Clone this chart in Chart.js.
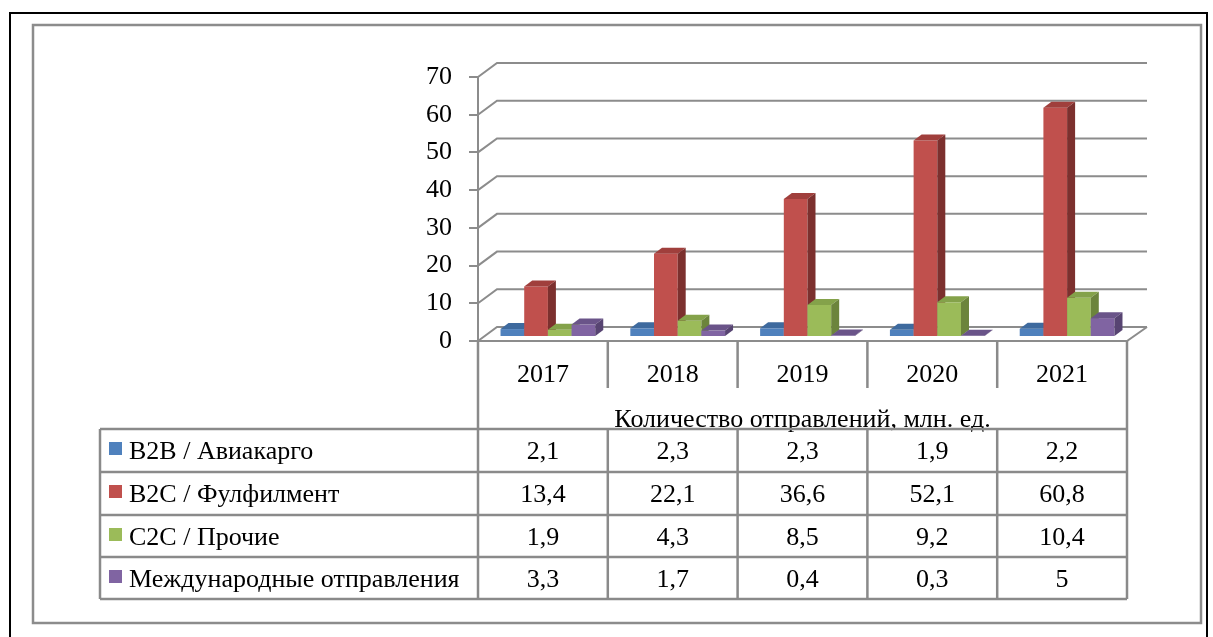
<!DOCTYPE html>
<html>
<head>
<meta charset="utf-8">
<script src="https://cdn.jsdelivr.net/npm/chart.js@4/dist/chart.umd.min.js"></script>
<style>
  html, body { margin: 0; padding: 0; background: #fff; }
  #wrap { width: 1213px; height: 637px; position: relative; }
</style>
</head>
<body>
<div id="wrap"><canvas id="chart"></canvas></div>
<script>
// данные
const categories = ['2017', '2018', '2019', '2020', '2021'];
const seriesNames = ['B2B / Авиакарго', 'B2C / Фулфилмент', 'C2C / Прочие', 'Международные отправления'];
const b2b = [2.1, 2.3, 2.3, 1.9, 2.2];
const b2c = [13.4, 22.1, 36.6, 52.1, 60.8];
const c2c = [1.9, 4.3, 8.5, 9.2, 10.4];
const intl = [3.3, 1.7, 0.4, 0.3, 5];
const tableTitle = 'Количество отправлений, млн. ед.';
const yMax = 70, yStep = 10;

const front = ['#4F81BD', '#C0504D', '#9BBB59', '#8064A2'];
const side  = ['#355A87', '#7C302E', '#6C843C', '#574472'];
const topc  = ['#3E6A9E', '#A03F3C', '#84A24A', '#6A5489'];

const FONT = '26px "Liberation Serif", "Times New Roman", serif';
const gridColor = '#8c8c8c';
const tableColor = '#8a8a8a';

// 3D : стенка, пол, столбики
const threeD = {
  id: 'threeD',
  beforeDatasetsDraw(chart) {
    const ctx = chart.ctx, a = chart.chartArea, y = chart.scales.y;
    ctx.save();
    ctx.strokeStyle = gridColor;
    ctx.lineWidth = 2;
    y.ticks.forEach(t => {
      const py = y.getPixelForValue(t.value);
      ctx.beginPath();
      ctx.moveTo(a.left, py);
      ctx.lineTo(a.left + 19, py - 14);
      ctx.lineTo(a.right + 20, py - 14);
      ctx.stroke();
    });
    ctx.beginPath();
    ctx.moveTo(a.left, a.bottom);
    ctx.lineTo(a.right, a.bottom);
    ctx.lineTo(a.right + 20, a.bottom - 14);
    ctx.stroke();

    const dx = 8, dy = -6;
    for (let j = 0; j < categories.length; j++) {
      chart.data.datasets.forEach((ds, i) => {
        const el = chart.getDatasetMeta(i).data[j];
        const x0 = el.x - el.width / 2 + 5, x1 = x0 + el.width;
        const yt = el.y - 4, yb = el.base - 4;
        ctx.fillStyle = front[i];
        ctx.fillRect(x0, yt, x1 - x0, yb - yt);
        ctx.fillStyle = topc[i];
        ctx.beginPath();
        ctx.moveTo(x0, yt); ctx.lineTo(x1, yt);
        ctx.lineTo(x1 + dx, yt + dy); ctx.lineTo(x0 + dx, yt + dy);
        ctx.closePath(); ctx.fill();
        ctx.fillStyle = side[i];
        ctx.beginPath();
        ctx.moveTo(x1, yt); ctx.lineTo(x1 + dx, yt + dy);
        ctx.lineTo(x1 + dx, yb + dy); ctx.lineTo(x1, yb);
        ctx.closePath(); ctx.fill();
      });
    }
    ctx.restore();
    return false;
  }
};

// таблица данных под графиком
const dataTable = {
  id: 'dataTable',
  afterDraw(chart) {
    const ctx = chart.ctx, a = chart.chartArea, x = chart.scales.x;
    const n = categories.length;
    const edges = [];
    for (let j = 0; j <= n; j++) edges.push(x.getPixelForValue(j - 0.5));
    const rows = [429, 472, 515, 557, 599];
    const legLeft = 100;
    ctx.save();
    ctx.font = FONT;
    ctx.fillStyle = '#000';
    ctx.textAlign = 'center';
    ctx.textBaseline = 'alphabetic';
    categories.forEach((c, j) => ctx.fillText(c, x.getPixelForValue(j), a.bottom + 41));
    ctx.fillText(tableTitle, (a.left + a.right) / 2, rows[0] - 2);

    chart.data.datasets.forEach((ds, i) => {
      const base = rows[i] + 30;
      ds.data.forEach((v, j) => {
        ctx.fillText(String(v).replace('.', ','), x.getPixelForValue(j), base);
      });
      ctx.fillStyle = front[i];
      ctx.fillRect(legLeft + 9, rows[i] + 13, 13, 13);
      ctx.fillStyle = '#000';
      ctx.textAlign = 'left';
      ctx.fillText(ds.label, legLeft + 29, base);
      ctx.textAlign = 'center';
    });

    ctx.strokeStyle = tableColor;
    ctx.lineWidth = 2.5;
    ctx.beginPath();
    rows.forEach(r => { ctx.moveTo(legLeft, r); ctx.lineTo(a.right, r); });
    ctx.moveTo(legLeft, rows[0]); ctx.lineTo(legLeft, rows[4]);
    ctx.moveTo(edges[0], a.bottom); ctx.lineTo(edges[0], rows[4]);
    ctx.moveTo(edges[n], a.bottom); ctx.lineTo(edges[n], rows[4]);
    for (let j = 1; j < n; j++) {
      ctx.moveTo(edges[j], a.bottom); ctx.lineTo(edges[j], a.bottom + 47);
      ctx.moveTo(edges[j], rows[0]); ctx.lineTo(edges[j], rows[4]);
    }
    ctx.stroke();
    ctx.restore();
  }
};

// рамки
const frame = {
  id: 'frame',
  beforeDraw(chart) {
    const ctx = chart.ctx;
    ctx.save();
    ctx.fillStyle = '#fff';
    ctx.fillRect(0, 0, chart.width, chart.height);
    ctx.strokeStyle = '#000';
    ctx.lineWidth = 2;
    ctx.strokeRect(10, 13, 1197, 640);
    ctx.strokeStyle = '#8c8c8c';
    ctx.lineWidth = 2.5;
    ctx.strokeRect(33, 25, 1168, 598);
    ctx.restore();
  }
};

const allSeries = [b2b, b2c, c2c, intl];

new Chart(document.getElementById('chart'), {
  type: 'bar',
  data: {
    labels: categories,
    datasets: allSeries.map((s, i) => ({
      label: seriesNames[i],
      data: s,
      backgroundColor: front[i],
      categoryPercentage: 0.73,
      barPercentage: 1
    }))
  },
  options: {
    responsive: true,
    maintainAspectRatio: false,
    animation: false,
    layout: { padding: { left: 0, right: 86, top: 77, bottom: 296 } },
    plugins: {
      legend: { display: false },
      tooltip: { enabled: false }
    },
    scales: {
      x: { display: false },
      y: {
        min: 0, max: yMax,
        afterFit(scale) { scale.width = 478; },
        ticks: { stepSize: yStep, color: '#000', padding: 17, font: { family: '"Liberation Serif", "Times New Roman", serif', size: 26 } },
        grid: { drawOnChartArea: false, drawTicks: true, tickLength: 9, color: gridColor, lineWidth: 2 },
        border: { color: gridColor, width: 2 }
      }
    }
  },
  plugins: [frame, threeD, dataTable]
});
</script>
</body>
</html>
